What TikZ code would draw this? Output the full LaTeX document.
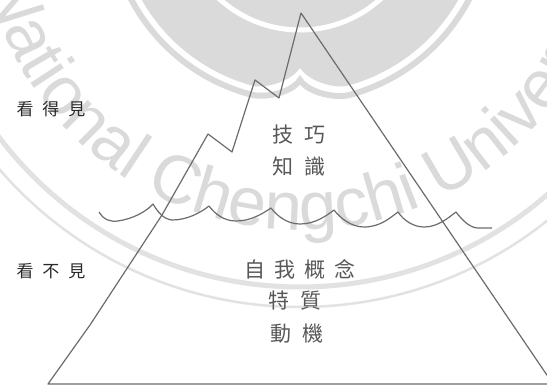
\documentclass[tikz,border=0pt]{standalone}
\usepackage{fontspec}
\newfontfamily\cjk{Noto Sans CJK TC}
\newfontfamily\wmfont{Liberation Sans}
\usetikzlibrary{decorations.text}
\definecolor{sealgray}{HTML}{DADADA}
\definecolor{ringgray}{HTML}{E2E2E2}
\definecolor{inkline}{HTML}{6C6C6C}
\definecolor{inktext}{HTML}{585858}
\definecolor{inkside}{HTML}{2A2A2A}
\begin{document}
\begin{tikzpicture}[x=1pt,y=-1pt,
  outline/.style={draw=inkline, line width=1.2pt, line join=round},
  waterline/.style={draw=inkline, line width=1.2pt, line join=round},
  bigword/.style={font=\cjk\fontsize{21pt}{21pt}\selectfont, text=inktext, inner sep=0pt},
  sideword/.style={font=\cjk\fontsize{17pt}{17pt}\selectfont, text=inkside, inner sep=0pt}]
\useasboundingbox (0,0) rectangle (547,385);
\clip (0,0) rectangle (547,385);
\fill[white] (0,0) rectangle (547,385);

% ---- university seal in the background ----
\coordinate (sc) at (300,-90);
% solid emblem disc with the notch at its lower rim
\fill[sealgray] (sc) ++(200:182) arc[start angle=200, end angle=104.5, radius=182]
  .. controls (270,88) and (292,80) .. (300,68)
  .. controls (308,80) and (330,88) .. (345.6,86.2)
  arc[start angle=75.5, end angle=-20, radius=182] -- cycle;
% thin white ring inside the disc
\draw[white, line width=5pt] (sc) circle[radius=120];
% outer rim of the emblem
\draw[sealgray, line width=6pt] (sc) ++(200:191) arc[start angle=200, end angle=104.5, radius=191]
  .. controls (268,98) and (292,92) .. (300,80)
  .. controls (308,92) and (332,98) .. (347.8,95.4)
  arc[start angle=75.5, end angle=-20, radius=191];
% circular bands below the lettering
\draw[ringgray, line width=5pt] (sc) circle[radius=377];
\draw[ringgray, line width=2.5pt] (sc) circle[radius=397];
% lettering around the seal
\path[decorate, decoration={text along path, text color=sealgray,
  text={|\wmfont\fontsize{68pt}{68pt}\selectfont|National Chengchi University}}]
  (sc) ++(167:320) arc[start angle=167, end angle=-20, radius=320];

% ---- iceberg ----
\draw[outline] (48,384) -- (90,325) -- (162,215) -- (208,134) -- (232,152)
  -- (255,80) -- (279,98) -- (301,13) -- (553,384) -- cycle;

% ---- water surface ----
\draw[waterline] (99,212)
  .. controls (104,220) and (110,222) .. (118,221)
  .. controls (132,219) and (146,212) .. (153,204)
  .. controls (158,212) and (163,219) .. (172,220)
  .. controls (187,220) and (200,213) .. (209,206)
  .. controls (215,214) and (224,221) .. (236,221)
  .. controls (251,221) and (262,214) .. (271,208)
  .. controls (278,217) and (288,224) .. (300,224)
  .. controls (315,224) and (326,216) .. (334,210)
  .. controls (341,219) and (352,227) .. (364,227)
  .. controls (380,227) and (390,218) .. (398,212)
  .. controls (404,221) and (414,227) .. (424,227)
  .. controls (438,227) and (448,218) .. (456,212)
  .. controls (462,220) and (470,228) .. (478,228) -- (492,228);

% ---- labels ----
\node[sideword] (seen)   at (51,109) {看\hspace{9pt}得\hspace{9pt}見};
\node[sideword] (unseen) at (51,271) {看\hspace{9pt}不\hspace{9pt}見};

\node[bigword] (skill)   at (299,135) {技\hspace{11pt}巧};
\node[bigword] (know)    at (299,166) {知\hspace{11pt}識};
\node[bigword] (self)    at (300,269) {自\hspace{9pt}我\hspace{9pt}概\hspace{9pt}念};
\node[bigword] (trait)   at (295,301) {特\hspace{11pt}質};
\node[bigword] (motive)  at (297,334) {動\hspace{11pt}機};
\end{tikzpicture}
\end{document}
